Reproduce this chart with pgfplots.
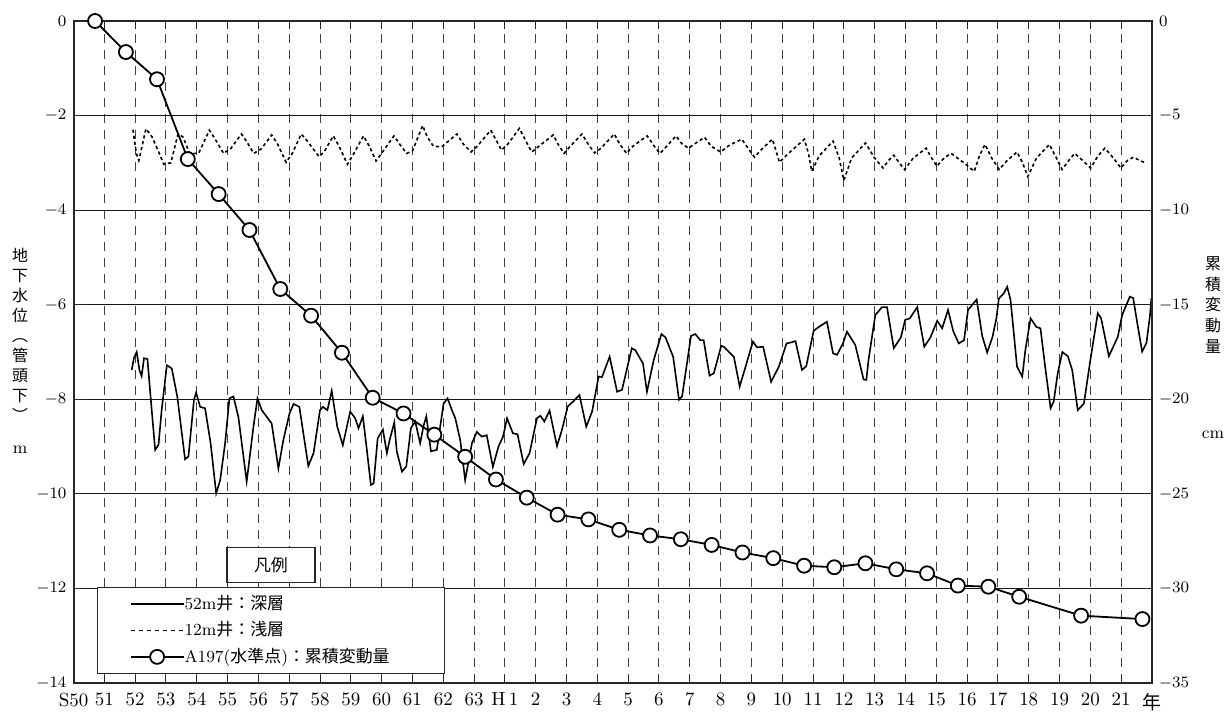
\documentclass[border=0pt]{standalone}
\usepackage{fontspec}
\usepackage{pgfplots}
\pgfplotsset{compat=1.18}
\newfontfamily\cjk{Noto Sans CJK JP}

\pgfplotstableread{
x y
1.89 -7.38
1.96 -7.13
2.05 -7.00
2.14 -7.38
2.21 -7.51
2.29 -7.13
2.40 -7.15
2.51 -8.01
2.65 -9.07
2.76 -8.96
2.86 -8.23
3.03 -7.28
3.19 -7.35
3.37 -7.95
3.62 -9.27
3.73 -9.21
3.91 -8.01
3.98 -7.86
4.11 -8.16
4.27 -8.19
4.45 -8.93
4.63 -9.99
4.76 -9.71
4.92 -8.93
5.06 -7.98
5.19 -7.94
5.35 -8.37
5.62 -9.74
5.84 -8.58
5.97 -7.98
6.11 -8.23
6.43 -8.51
6.65 -9.46
6.81 -8.86
7.01 -8.30
7.14 -8.10
7.33 -8.16
7.62 -9.41
7.79 -9.14
8.00 -8.23
8.09 -8.16
8.24 -8.23
8.38 -7.82
8.56 -8.58
8.74 -8.97
8.98 -8.26
9.14 -8.40
9.25 -8.61
9.39 -8.36
9.52 -9.07
9.65 -9.81
9.74 -9.78
9.87 -8.83
10.04 -8.64
10.17 -9.14
10.26 -8.86
10.41 -8.49
10.49 -9.10
10.66 -9.53
10.80 -9.42
10.95 -8.61
11.09 -8.47
11.25 -8.93
11.36 -8.56
11.45 -8.36
11.60 -9.10
11.79 -9.07
12.01 -8.09
12.14 -7.98
12.28 -8.23
12.39 -8.40
12.55 -8.86
12.71 -9.71
12.93 -8.93
13.09 -8.69
13.25 -8.79
13.41 -8.76
13.61 -9.43
13.79 -9.00
13.94 -8.79
14.07 -8.40
14.26 -8.72
14.41 -8.74
14.61 -9.37
14.80 -9.14
15.04 -8.40
15.15 -8.35
15.28 -8.47
15.45 -8.24
15.69 -8.99
15.85 -8.65
16.04 -8.15
16.21 -8.05
16.42 -7.91
16.64 -8.58
16.83 -8.26
17.04 -7.52
17.15 -7.53
17.40 -7.10
17.64 -7.84
17.80 -7.80
18.12 -6.92
18.23 -6.96
18.48 -7.24
18.61 -7.84
18.83 -7.17
19.08 -6.62
19.21 -6.69
19.46 -7.10
19.65 -8.01
19.75 -7.94
20.04 -6.66
20.18 -6.62
20.34 -6.75
20.45 -6.75
20.64 -7.50
20.78 -7.45
21.02 -6.87
21.10 -6.89
21.43 -7.10
21.62 -7.73
21.81 -7.31
22.05 -6.78
22.18 -6.90
22.38 -6.89
22.64 -7.63
22.89 -7.31
23.14 -6.82
23.27 -6.80
23.43 -6.77
23.64 -7.38
23.78 -7.30
24.02 -6.55
24.21 -6.46
24.45 -6.36
24.65 -7.03
24.78 -7.06
24.97 -6.82
25.10 -6.57
25.37 -6.85
25.64 -7.58
25.73 -7.59
25.80 -7.17
26.02 -6.22
26.24 -6.05
26.40 -6.05
26.62 -6.92
26.85 -6.69
26.99 -6.32
27.14 -6.29
27.38 -6.05
27.61 -6.89
27.81 -6.69
28.03 -6.34
28.19 -6.50
28.38 -6.11
28.55 -6.56
28.73 -6.82
28.90 -6.75
29.03 -6.11
29.16 -6.01
29.31 -5.89
29.49 -6.66
29.65 -7.01
29.82 -6.69
29.95 -6.29
30.03 -5.87
30.19 -5.76
30.30 -5.62
30.41 -5.90
30.62 -7.31
30.79 -7.52
30.89 -6.96
31.06 -6.29
31.25 -6.47
31.38 -6.50
31.54 -7.35
31.71 -8.19
31.81 -8.05
31.94 -7.45
32.09 -7.00
32.27 -7.09
32.41 -7.38
32.59 -8.23
32.79 -8.09
33.00 -7.17
33.24 -6.18
33.35 -6.29
33.60 -7.09
33.89 -6.68
34.03 -6.22
34.28 -5.83
34.39 -5.86
34.54 -6.46
34.68 -6.99
34.82 -6.81
34.93 -6.25
34.98 -5.86
}\deep

\pgfplotstableread{
x y
1.93 -2.30
2.04 -2.80
2.12 -2.95
2.35 -2.28
2.55 -2.45
2.81 -2.84
2.93 -3.03
3.16 -3.00
3.39 -2.39
3.55 -2.45
3.77 -2.80
4.06 -2.80
4.41 -2.31
4.60 -2.50
4.87 -2.80
5.10 -2.70
5.45 -2.39
5.62 -2.55
5.85 -2.80
6.10 -2.70
6.43 -2.41
6.62 -2.60
6.90 -2.99
7.10 -2.80
7.39 -2.39
7.60 -2.55
7.97 -2.87
8.15 -2.75
8.43 -2.43
8.62 -2.65
8.89 -3.03
9.10 -2.80
9.41 -2.43
9.60 -2.65
9.82 -2.96
10.05 -2.75
10.40 -2.43
10.58 -2.60
10.81 -2.80
11.00 -2.75
11.33 -2.21
11.48 -2.45
11.68 -2.65
11.95 -2.66
12.44 -2.39
12.65 -2.60
12.90 -2.77
13.10 -2.65
13.54 -2.31
13.70 -2.50
13.89 -2.73
14.10 -2.60
14.47 -2.27
14.65 -2.50
14.87 -2.77
15.10 -2.65
15.57 -2.41
15.72 -2.60
15.92 -2.80
16.12 -2.65
16.50 -2.39
16.70 -2.60
16.91 -2.79
17.10 -2.70
17.55 -2.39
17.72 -2.60
17.95 -2.80
18.15 -2.65
18.62 -2.43
18.85 -2.65
19.03 -2.80
19.25 -2.65
19.55 -2.43
19.75 -2.60
19.96 -2.69
20.15 -2.60
20.48 -2.46
20.70 -2.65
21.00 -2.77
21.30 -2.62
21.69 -2.50
21.90 -2.70
22.10 -2.88
22.35 -2.70
22.68 -2.50
22.80 -2.75
22.91 -2.99
23.20 -2.80
23.72 -2.50
23.85 -2.80
23.96 -3.18
24.20 -2.85
24.65 -2.54
24.85 -2.90
25.00 -3.37
25.25 -2.90
25.70 -2.58
26.00 -2.90
26.27 -3.11
26.45 -2.95
26.62 -2.84
26.80 -3.00
26.97 -3.14
27.25 -2.90
27.67 -2.69
27.85 -2.90
28.02 -3.07
28.25 -2.90
28.48 -2.80
28.90 -3.00
29.23 -3.18
29.40 -2.85
29.58 -2.61
29.80 -2.90
30.04 -3.14
30.30 -2.95
30.62 -2.77
30.80 -3.00
30.97 -3.29
31.25 -2.90
31.67 -2.61
31.90 -2.90
32.08 -3.14
32.30 -2.95
32.49 -2.80
32.75 -2.95
33.01 -3.11
33.25 -2.85
33.47 -2.69
33.75 -2.90
33.99 -3.11
34.20 -2.95
34.40 -2.88
34.60 -2.95
34.75 -2.99
}\shallow

\pgfplotstableread{
x y
0.70 0
1.70 -1.64
2.71 -3.08
3.71 -7.30
4.71 -9.15
5.71 -11.05
6.71 -14.17
7.71 -15.58
8.71 -17.54
9.71 -19.92
10.71 -20.75
11.71 -21.87
12.71 -23.04
13.71 -24.24
14.71 -25.20
15.71 -26.10
16.71 -26.35
17.71 -26.90
18.71 -27.20
19.71 -27.40
20.71 -27.70
21.71 -28.10
22.71 -28.40
23.71 -28.80
24.69 -28.88
25.70 -28.67
26.70 -28.99
27.70 -29.20
28.70 -29.85
29.69 -29.91
30.69 -30.44
32.70 -31.44
34.69 -31.62
}\level

\begin{document}
\begin{tikzpicture}
\useasboundingbox (0,0) rectangle (612bp,357.5bp);
\begin{axis}[
  at={(36.75bp,16bp)}, anchor=south west,
  scale only axis, width=539.25bp, height=331bp,
  xmin=0, xmax=35, ymin=-14, ymax=0,
  xtick={0,...,35},
  xticklabels={S50,51,52,53,54,55,56,57,58,59,60,61,62,63,H\,1,2,3,4,5,6,7,8,9,10,11,12,13,14,15,16,17,18,19,20,21,{\cjk 年}},
  ytick={-14,-12,...,0},
  xtick pos=both, ytick pos=left,
  tick align=inside, major tick length=4bp,
  tick style={black!85, line width=0.5bp},
  xmajorgrids, ymajorgrids,
  x grid style={black!75, line width=0.5bp, dash pattern=on 4.5bp off 3.5bp},
  y grid style={black!90, line width=0.6bp},
  axis line style={black!85, line width=1bp},
  yticklabel style={font=\fontsize{8.5}{10}\selectfont},
  xticklabel style={font=\fontsize{9.5}{10}\selectfont, yshift=-1.5bp},
]
\addplot[black, line width=0.8bp] table {\deep};
\addplot[black, line width=0.8bp, dash pattern=on 1.6bp off 1.4bp] table {\shallow};
\end{axis}

\begin{axis}[
  at={(36.75bp,16bp)}, anchor=south west,
  scale only axis, width=539.25bp, height=331bp,
  xmin=0, xmax=35, ymin=-35, ymax=0,
  axis x line=none, axis y line*=right,
  y axis line style={-, black!85, line width=1bp},
  ytick={-35,-30,...,0},
  tick align=inside, major tick length=4bp,
  tick style={black!85, line width=0.5bp},
  yticklabel style={font=\fontsize{8.5}{10}\selectfont},
  clip=false,
  legend image code/.code={%
    \path[draw=none,fill=none] (0bp,0bp) -- (16.5bp,0bp);
    \draw[mark repeat=2,mark phase=2,#1] plot coordinates {(16.5bp,0bp) (29.75bp,0bp) (43bp,0bp)};},
  legend style={at={(0.0218,0.145)}, anchor=north west,
    draw=black!85, line width=0.6bp, fill=white,
    inner xsep=0pt, inner ysep=1.5bp,
    font=\fontsize{8.5}{10}\selectfont,
    nodes={inner xsep=0pt, inner ysep=0pt, minimum height=13.25bp},
    /tikz/every even column/.append style={column sep=2bp}},
  legend cell align=left,
]
\addlegendimage{black, line width=0.8bp}
\addlegendentry{\makebox[130bp][l]{52m{\cjk\fontsize{8.5}{10}\selectfont 井：深層}}}
\addlegendimage{black, line width=0.8bp, dash pattern=on 2.2bp off 1.8bp}
\addlegendentry{\makebox[130bp][l]{12m{\cjk\fontsize{8.5}{10}\selectfont 井：浅層}}}
\addplot[black, line width=0.9bp, mark=*, mark size=3.5bp,
  mark options={fill=white, draw=black, solid, line width=0.9bp}] table {\level};
\addlegendentry{\makebox[130bp][l]{A197({\cjk\fontsize{8.5}{10}\selectfont 水準点}){\cjk\fontsize{8.5}{10}\selectfont ：累積変動量}}}
\node[draw=black!85, line width=0.6bp, fill=white, minimum width=44bp,
  minimum height=17.5bp, inner sep=0pt, font=\cjk\fontsize{8.5}{10}\selectfont]
  at (axis description cs:0.1831,0.1782) {凡例};
\end{axis}

\node[font=\cjk\fontsize{8}{10}\selectfont, align=center, inner sep=0pt]
  at (10bp,190bp) {地\\下\\水\\位\\︵\\管\\頭\\下\\︶};
\node[font=\fontsize{8.5}{10}\selectfont, inner sep=0pt] at (10bp,132.5bp) {m};
\node[font=\cjk\fontsize{8}{10.5}\selectfont, align=center, inner sep=0pt]
  at (606.5bp,205bp) {累\\積\\変\\動\\量};
\node[font=\fontsize{8.5}{10}\selectfont, inner sep=0pt] at (606.5bp,140bp) {cm};
\end{tikzpicture}
\end{document}
